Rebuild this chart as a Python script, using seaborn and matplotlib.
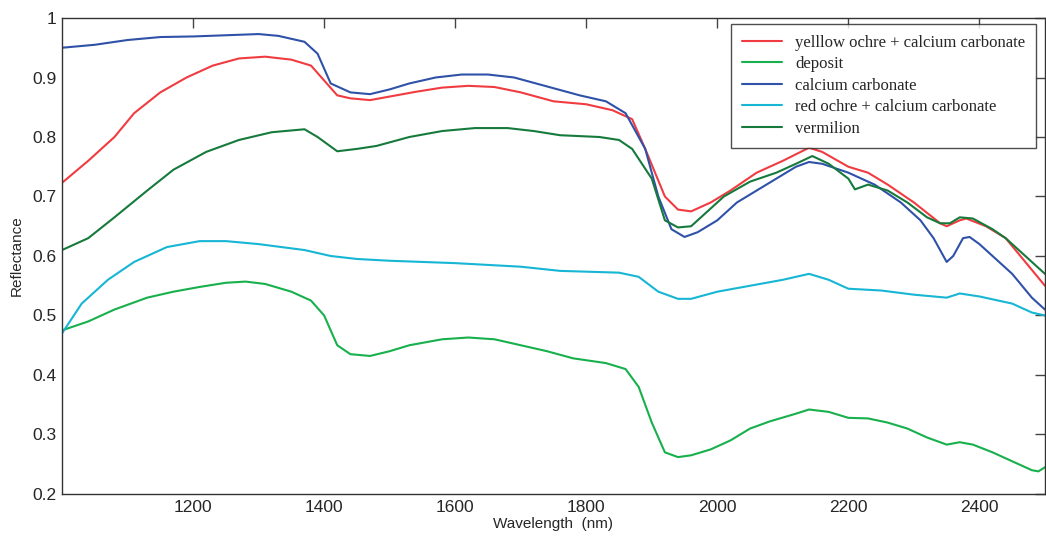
import numpy as np
import pandas as pd
import matplotlib
matplotlib.use("Agg")
import matplotlib.pyplot as plt
import seaborn as sns

# -----------------------------
# Data
# -----------------------------
wl_yellow = [1000, 1040, 1080, 1110, 1150, 1190, 1230, 1270, 1310, 1350, 1380, 1400, 1420, 1440, 1470,
             1500, 1540, 1580, 1620, 1660, 1700, 1750, 1800, 1840, 1870, 1890, 1920, 1940, 1960, 1990,
             2020, 2060, 2100, 2140, 2160, 2200, 2230, 2260, 2300, 2340, 2350, 2370, 2380, 2410, 2440,
             2470, 2500]
yellow_ochre = [0.723, 0.76, 0.80, 0.84, 0.875, 0.90, 0.92, 0.932, 0.935, 0.93, 0.92, 0.895, 0.87, 0.865, 0.862,
                0.868, 0.876, 0.883, 0.886, 0.884, 0.875, 0.86, 0.855, 0.845, 0.83, 0.78, 0.70, 0.678, 0.675, 0.69,
                0.71, 0.74, 0.76, 0.782, 0.775, 0.75, 0.74, 0.72, 0.69, 0.655, 0.65, 0.66, 0.663, 0.65, 0.63,
                0.59, 0.55]

wl_deposit = [1000, 1040, 1080, 1130, 1170, 1210, 1250, 1280, 1310, 1350, 1380, 1400, 1420, 1440, 1470,
              1500, 1530, 1580, 1620, 1660, 1700, 1740, 1780, 1830, 1860, 1880, 1900, 1920, 1940, 1960,
              1990, 2020, 2050, 2080, 2120, 2140, 2170, 2200, 2230, 2260, 2290, 2320, 2350, 2370, 2390,
              2420, 2450, 2480, 2490, 2500]
deposit = [0.475, 0.49, 0.51, 0.53, 0.54, 0.548, 0.555, 0.557, 0.553, 0.54, 0.525, 0.50, 0.45, 0.435, 0.432,
           0.44, 0.45, 0.46, 0.463, 0.46, 0.45, 0.44, 0.428, 0.42, 0.41, 0.38, 0.32, 0.27, 0.262, 0.265,
           0.275, 0.29, 0.31, 0.322, 0.335, 0.342, 0.338, 0.328, 0.327, 0.32, 0.31, 0.295, 0.283, 0.287, 0.283,
           0.27, 0.255, 0.24, 0.238, 0.245]

wl_calcium = [1000, 1050, 1100, 1150, 1200, 1250, 1300, 1330, 1370, 1390, 1410, 1440, 1470, 1500, 1530,
              1570, 1610, 1650, 1690, 1740, 1790, 1830, 1860, 1890, 1910, 1930, 1950, 1970, 2000, 2030,
              2060, 2090, 2120, 2140, 2160, 2200, 2240, 2280, 2310, 2330, 2350, 2360, 2375, 2385, 2400,
              2420, 2450, 2480, 2500]
calcium_carbonate = [0.95, 0.955, 0.963, 0.968, 0.969, 0.971, 0.973, 0.97, 0.96, 0.94, 0.89, 0.875, 0.872, 0.88, 0.89,
                     0.90, 0.905, 0.905, 0.90, 0.885, 0.87, 0.86, 0.84, 0.78, 0.70, 0.645, 0.632, 0.64, 0.66, 0.69,
                     0.71, 0.73, 0.75, 0.758, 0.755, 0.74, 0.72, 0.69, 0.66, 0.63, 0.59, 0.60, 0.63, 0.632, 0.62,
                     0.60, 0.57, 0.53, 0.51]

wl_red = [1000, 1030, 1070, 1110, 1160, 1210, 1250, 1300, 1370, 1410, 1450, 1500, 1600, 1700, 1760,
          1850, 1880, 1910, 1940, 1960, 2000, 2050, 2100, 2140, 2170, 2200, 2250, 2300, 2350, 2370,
          2400, 2450, 2480, 2500]
red_ochre = [0.47, 0.52, 0.56, 0.59, 0.615, 0.625, 0.625, 0.62, 0.61, 0.60, 0.595, 0.592, 0.588, 0.582, 0.575,
             0.572, 0.565, 0.54, 0.528, 0.528, 0.54, 0.55, 0.56, 0.57, 0.56, 0.545, 0.542, 0.535, 0.53, 0.537,
             0.532, 0.52, 0.505, 0.50]

wl_vermilion = [1000, 1040, 1080, 1130, 1170, 1220, 1270, 1320, 1370, 1390, 1420, 1450, 1480, 1530, 1580,
                1630, 1680, 1720, 1760, 1820, 1850, 1870, 1900, 1920, 1940, 1960, 1980, 2010, 2050, 2090,
                2120, 2145, 2170, 2200, 2210, 2230, 2260, 2290, 2320, 2340, 2355, 2370, 2390, 2420, 2440,
                2470, 2500]
vermilion = [0.61, 0.63, 0.665, 0.71, 0.745, 0.775, 0.795, 0.808, 0.813, 0.80, 0.776, 0.78, 0.785, 0.80, 0.81,
             0.815, 0.815, 0.81, 0.803, 0.80, 0.795, 0.78, 0.73, 0.66, 0.648, 0.65, 0.67, 0.70, 0.725, 0.74,
             0.755, 0.768, 0.755, 0.73, 0.712, 0.72, 0.71, 0.69, 0.665, 0.655, 0.655, 0.665, 0.663, 0.645, 0.63,
             0.60, 0.57]

labels = ["yelllow ochre + calcium carbonate", "deposit", "calcium carbonate",
          "red ochre + calcium carbonate", "vermilion"]
colors = ["#f03c41", "#17b04c", "#2f52a8", "#16b6d4", "#167a3c"]

# -----------------------------
# Long table for seaborn
# -----------------------------
series = [(wl_yellow, yellow_ochre), (wl_deposit, deposit), (wl_calcium, calcium_carbonate),
          (wl_red, red_ochre), (wl_vermilion, vermilion)]
frames = []
for name, (w, r) in zip(labels, series):
    frames.append(pd.DataFrame({"wavelength": w, "reflectance": r, "sample": name}))
df = pd.concat(frames, ignore_index=True)

sns.set_style("white")
plt.rcParams["font.family"] = ["Liberation Sans", "DejaVu Sans"]

fig = plt.figure(figsize=(10.46, 5.39), dpi=100)
ax = fig.add_axes([0.0593, 0.0835, 0.9397, 0.8831])

sns.lineplot(data=df, x="wavelength", y="reflectance", hue="sample",
             hue_order=labels, palette=dict(zip(labels, colors)),
             linewidth=1.5, sort=False, estimator=None, ax=ax)

ax.set_xlim(1000, 2500)
ax.set_ylim(0.2, 1.0)
ax.set_xticks([1200, 1400, 1600, 1800, 2000, 2200, 2400])
ax.set_yticks([0.2, 0.3, 0.4, 0.5, 0.6, 0.7, 0.8, 0.9, 1.0])
ax.set_yticklabels(["0.2", "0.3", "0.4", "0.5", "0.6", "0.7", "0.8", "0.9", "1"])
ax.tick_params(direction="in", length=7, width=1, color="#444444",
               top=True, right=True, labelsize=12.5, pad=4)
for s in ax.spines.values():
    s.set_color("#333333")
    s.set_linewidth(1)

ax.set_xlabel("Wavelength  (nm)", fontsize=11, labelpad=2)
ax.set_ylabel("Reflectance", fontsize=11, labelpad=6)

leg = ax.legend(loc="upper left", bbox_to_anchor=(731 / 1046, 1 - 24 / 539),
                bbox_transform=fig.transFigure, borderaxespad=0,
                prop={"family": "Liberation Serif", "size": 12},
                frameon=True, fancybox=False, handlelength=2.4,
                labelspacing=0.33, borderpad=0.65)
leg.get_frame().set_edgecolor("#222222")
leg.get_frame().set_linewidth(1)

plt.savefig("out.png", dpi=100)
